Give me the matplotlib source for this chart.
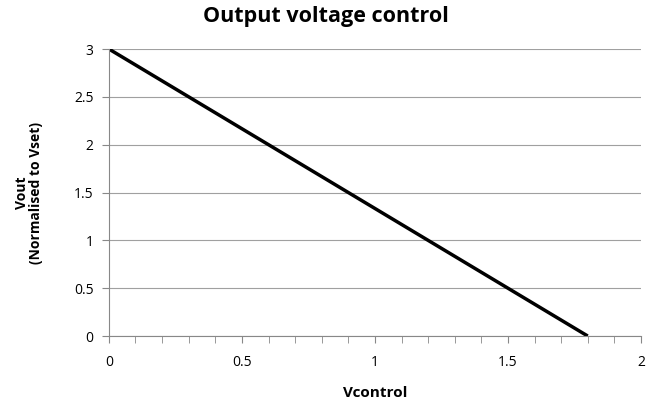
import numpy as np
import matplotlib.pyplot as plt

vcontrol = [0, 1.8]
vout = [3, 0]

plt.rcParams['font.family'] = ['Open Sans', 'DejaVu Sans']

fig = plt.figure(figsize=(6.56, 4.07), dpi=100)
ax = fig.add_axes([0.166, 0.1744, 0.811, 0.7052])

ax.plot(vcontrol, vout, color='black', linewidth=2.5, solid_capstyle='butt')

ax.set_xlim(0, 2)
ax.set_ylim(0, 3)
ax.set_xticks(np.arange(0, 2.01, 0.5))
ax.set_xticklabels(['0', '0.5', '1', '1.5', '2'])
ax.set_xticks(np.arange(0, 2.01, 0.1), minor=True)
ax.set_yticks(np.arange(0, 3.01, 0.5))
ax.set_yticklabels(['0', '0.5', '1', '1.5', '2', '2.5', '3'])

ax.grid(axis='y', color='#a0a0a0', linewidth=0.8)
ax.set_axisbelow(True)
for s in ['top', 'right']:
    ax.spines[s].set_visible(False)
for s in ['left', 'bottom']:
    ax.spines[s].set_color('#888888')
    ax.spines[s].set_linewidth(0.8)

ax.tick_params(axis='x', which='both', length=5, color='#888888', labelsize=10, pad=9)
ax.tick_params(axis='y', length=5, color='#888888', labelsize=10, pad=6)

fig.text(0.497, 0.96, 'Output voltage control', fontsize=15.5, fontweight='bold',
         ha='center', va='center')
ax.set_xlabel('Vcontrol', fontsize=11, fontweight='bold', labelpad=11)
ax.set_ylabel('Vout\n(Normalised to Vset)', fontsize=10, fontweight='bold', labelpad=22,
              linespacing=1.0)

fig.savefig('out.png', dpi=100)
